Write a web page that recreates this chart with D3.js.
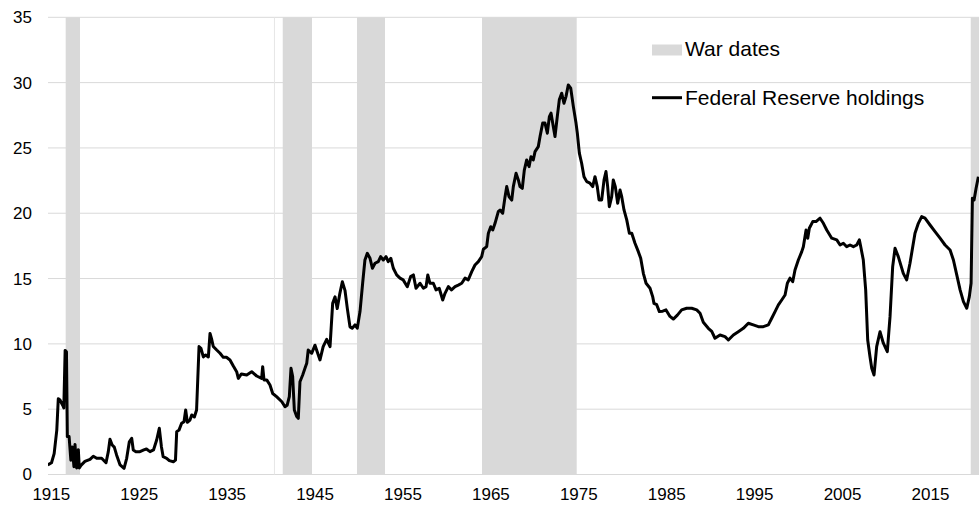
<!DOCTYPE html>
<html>
<head>
<meta charset="utf-8">
<script src="https://cdn.jsdelivr.net/npm/d3@7"></script>
<style>
  body { margin: 0; background: #fff; }
  text { font-family: "Liberation Sans", Arial, sans-serif; fill: #000; }
</style>
</head>
<body>
<script>
// Federal Reserve holdings (decimal year, value)
var years = [1915.17,1915.6,1915.9,1916.2,1916.37,1916.56,1916.87,1917.0,1917.15,1917.3,1917.4,1917.6,1917.8,1917.96,
  1918.15,1918.27,1918.46,1918.65,1918.76,1918.95,1919.4,1919.98,1920.35,1920.74,1921.3,1921.8,1922.06,1922.25,1922.5,
  1922.74,1923.0,1923.4,1923.85,1924.15,1924.45,1924.72,1924.9,1925.2,1925.66,1926.1,1926.4,1926.8,1927.2,1927.56,
  1927.86,1928.1,1928.3,1928.7,1929.0,1929.46,1929.7,1929.84,1930.1,1930.4,1930.67,1930.86,1931.05,1931.35,1931.55,
  1931.85,1932.1,1932.38,1932.6,1932.87,1933.14,1933.44,1933.63,1933.8,1934.0,1934.39,1934.77,1935.14,1935.5,1935.9,
  1936.28,1936.66,1936.85,1937.2,1937.8,1938.37,1938.94,1939.5,1939.62,1939.77,1940.08,1940.45,1940.76,1941.2,1941.8,
  1942.16,1942.4,1942.65,1942.84,1943.03,1943.22,1943.5,1943.67,1943.86,1944.17,1944.43,1944.63,1944.8,1945.2,1945.57,
  1946.14,1946.5,1946.9,1947.28,1947.58,1947.85,1948.1,1948.4,1948.68,1948.98,1949.25,1949.55,1949.8,1950.12,1950.38,
  1950.69,1950.99,1951.25,1951.52,1951.83,1952.1,1952.4,1952.77,1953.04,1953.34,1953.65,1953.9,1954.2,1954.48,1954.86,
  1955.24,1955.6,1956.07,1956.45,1956.76,1957.06,1957.52,1957.9,1958.2,1958.4,1958.65,1959.03,1959.34,1959.7,1960.1,
  1960.36,1960.74,1961.1,1961.5,1961.87,1962.26,1962.64,1963.0,1963.4,1963.77,1964.15,1964.53,1964.72,1965.1,1965.29,
  1965.56,1965.79,1966.05,1966.42,1966.62,1966.92,1967.19,1967.38,1967.64,1967.95,1968.13,1968.44,1968.7,1968.89,
  1969.15,1969.38,1969.65,1969.92,1970.14,1970.4,1970.6,1970.97,1971.17,1971.47,1971.73,1972.0,1972.23,1972.42,1972.68,
  1972.87,1973.13,1973.36,1973.63,1973.89,1974.12,1974.38,1974.66,1974.96,1975.26,1975.41,1975.64,1975.9,1976.17,
  1976.48,1976.85,1977.16,1977.42,1977.68,1977.88,1978.18,1978.45,1978.67,1978.86,1979.05,1979.32,1979.5,1979.73,
  1980.0,1980.27,1980.46,1980.72,1981.03,1981.33,1981.6,1981.97,1982.35,1982.62,1982.92,1983.23,1983.68,1983.98,
  1984.13,1984.44,1984.74,1985.12,1985.5,1985.95,1986.33,1986.79,1987.28,1987.85,1988.42,1988.99,1989.37,1989.74,
  1990.31,1990.7,1991.07,1991.64,1992.21,1992.59,1993.16,1993.72,1994.29,1994.86,1995.43,1996.0,1996.57,1997.14,
  1997.52,1997.9,1998.28,1998.66,1999.04,1999.3,1999.6,1999.91,2000.17,2000.55,2000.94,2001.12,2001.43,2001.62,
  2001.8,2002.19,2002.56,2003.02,2003.4,2003.78,2004.35,2004.92,2005.3,2005.67,2006.05,2006.43,2006.81,2007.19,
  2007.49,2007.65,2007.94,2008.21,2008.44,2008.7,2008.9,2009.16,2009.46,2009.84,2010.22,2010.67,2010.98,2011.28,
  2011.55,2011.92,2012.49,2012.87,2013.25,2013.82,2014.2,2014.58,2014.96,2015.53,2016.1,2016.67,2017.24,2017.81,
  2018.19,2018.57,2018.95,2019.33,2019.71,2020.0,2020.2,2020.35,2020.54,2020.77,2021.03];
var holdings = [0.73,0.9,1.6,3.4,5.8,5.7,5.3,5.1,9.5,9.4,2.9,2.9,1.1,2.1,
  0.6,2.3,0.5,1.9,0.5,0.7,1.0,1.16,1.4,1.24,1.24,0.9,1.75,2.7,2.26,
  2.1,1.5,0.73,0.47,1.24,2.5,2.77,1.88,1.75,1.75,1.88,1.95,1.75,1.88,2.64,
  3.54,2.13,1.36,1.24,1.06,0.98,1.1,3.28,3.4,3.92,4.04,4.94,4.0,4.17,4.56,
  4.4,4.94,9.79,9.66,9.0,9.15,9.0,10.8,10.4,9.8,9.53,9.28,8.97,8.97,8.77,
  8.3,7.87,7.36,7.7,7.62,7.87,7.54,7.36,8.25,7.24,7.24,6.85,6.2,5.96,5.57,
  5.19,5.3,5.96,8.13,7.49,4.94,4.43,4.3,7.1,7.62,8.13,8.51,9.53,9.28,9.9,
  8.77,9.79,10.35,9.79,13.1,13.6,12.7,13.87,14.76,14.1,12.7,11.3,11.2,11.45,11.2,
  12.47,14.64,16.42,16.93,16.55,15.79,16.17,16.3,16.68,16.42,16.68,16.3,16.55,15.79,15.28,
  15.03,14.9,14.38,15.15,15.28,14.26,14.64,14.26,14.38,15.28,14.64,14.64,14.13,14.26,13.36,
  13.87,14.38,14.13,14.38,14.5,14.64,15.03,14.9,15.53,16.04,16.3,16.68,17.24,17.44,18.47,
  18.97,18.72,19.23,20.12,20.25,20.0,21.27,22.04,21.27,21.0,22.04,23.06,22.55,22.04,
  21.91,23.3,24.08,23.57,24.33,24.08,24.72,25.1,25.87,26.9,26.9,26.13,27.4,27.66,26.63,
  25.87,27.4,28.68,29.19,28.42,28.93,29.82,29.57,28.16,26.9,26.13,24.6,23.83,22.8,
  22.42,22.3,22.04,22.8,22.04,21.02,21.02,22.55,23.19,22.04,20.5,21.27,22.55,22.04,
  20.77,21.78,21.27,20.25,19.49,18.47,18.47,17.7,17.06,16.55,15.4,14.64,14.26,13.62,
  13.1,13.0,12.47,12.5,12.6,12.1,11.9,12.2,12.6,12.73,12.73,12.6,12.34,11.65,
  11.19,10.95,10.43,10.68,10.55,10.3,10.68,10.93,11.19,11.58,11.45,11.32,11.32,11.45,
  11.96,12.47,12.98,13.36,13.74,14.64,15.03,14.76,15.66,16.42,17.06,17.44,18.72,18.09,
  18.85,19.36,19.36,19.62,19.23,18.72,18.09,17.96,17.57,17.7,17.44,17.57,17.44,17.57,
  17.96,17.44,16.42,14.13,10.3,9.02,8.13,7.62,9.79,10.93,10.05,9.4,12.08,15.91,
  17.32,16.68,15.4,14.9,16.17,18.47,19.23,19.74,19.62,19.1,18.59,18.09,17.57,17.19,
  16.42,15.28,14.13,13.23,12.73,13.62,14.64,21.15,21.02,21.91,22.8];

// War periods (shaded bands)
var warStart = [1917.21, 1940.9, 1941.9, 1950.35, 1964.57, 2020.16];
var warEnd   = [1918.84, 1941.0, 1945.23, 1953.53, 1975.34, 2021.2];

var xTickYears = [1915, 1925, 1935, 1945, 1955, 1965, 1975, 1985, 1995, 2005, 2015];
var yTicks = [0, 5, 10, 15, 20, 25, 30, 35];

var legendLabels = ["War dates", "Federal Reserve holdings"];

var W = 979, H = 508;
var plotLeft = 48, plotRight = 979, plotTop = 17.3, plotBottom = 474.5;

var svg = d3.select("body").append("svg")
  .attr("width", W)
  .attr("height", H);

var x = d3.scaleLinear().domain([1915.2, 2021.1]).range([plotLeft, plotRight]);
var y = d3.scaleLinear().domain([0, 35]).range([plotBottom, plotTop]);

// horizontal gridlines
svg.append("g")
  .selectAll("line")
  .data(yTicks)
  .enter().append("line")
  .attr("x1", plotLeft)
  .attr("x2", plotRight)
  .attr("y1", function(d) { return y(d); })
  .attr("y2", function(d) { return y(d); })
  .attr("stroke", "#d9d9d9")
  .attr("stroke-width", 1);

// war bands
var wars = warStart.map(function(s, i) { return { s: s, e: warEnd[i] }; });
svg.append("g")
  .selectAll("rect")
  .data(wars)
  .enter().append("rect")
  .attr("x", function(d) { return x(d.s); })
  .attr("width", function(d) { return Math.max(1, x(d.e) - x(d.s)); })
  .attr("y", y(35))
  .attr("height", y(0) - y(35))
  .attr("fill", function(d) { return (d.e - d.s) < 0.2 ? "#e6e6e6" : "#d9d9d9"; });

// y axis labels
var yAxis = d3.axisLeft(y).tickValues(yTicks).tickSize(0).tickPadding(0);
svg.append("g")
  .attr("transform", "translate(32,0)")
  .call(yAxis)
  .call(function(g) { g.select(".domain").remove(); })
  .selectAll("text")
  .attr("font-size", "17px")
  .attr("font-family", "Liberation Sans, Arial, sans-serif")
  .attr("fill", "#000");

// x axis labels (centred mid-year)
var xAxis = d3.axisBottom(x)
  .tickValues(xTickYears.map(function(d) { return d + 0.52; }))
  .tickFormat(function(d) { return Math.floor(d); })
  .tickSize(0).tickPadding(0);
svg.append("g")
  .attr("transform", "translate(0,488)")
  .call(xAxis)
  .call(function(g) { g.select(".domain").remove(); })
  .selectAll("text")
  .attr("font-size", "17px")
  .attr("font-family", "Liberation Sans, Arial, sans-serif")
  .attr("fill", "#000");

// the line
svg.append("clipPath").attr("id", "clip")
  .append("rect").attr("x", plotLeft).attr("y", 0).attr("width", plotRight - plotLeft).attr("height", H);

var series = years.map(function(d, i) { return [d, holdings[i]]; });
var line = d3.line()
  .x(function(d) { return x(d[0]); })
  .y(function(d) { return y(d[1]); });

svg.append("path")
  .datum(series)
  .attr("clip-path", "url(#clip)")
  .attr("d", line)
  .attr("fill", "none")
  .attr("stroke", "#000")
  .attr("stroke-width", 3)
  .attr("stroke-linejoin", "round");

// legend
var lg = svg.append("g").attr("font-size", "21px");
lg.append("rect")
  .attr("x", 652).attr("y", 44.5).attr("width", 30).attr("height", 11)
  .attr("fill", "#d9d9d9");
lg.append("text").attr("x", 685).attr("y", 56).text(legendLabels[0]);
lg.append("line")
  .attr("x1", 652).attr("x2", 682).attr("y1", 97.7).attr("y2", 97.7)
  .attr("stroke", "#000").attr("stroke-width", 3);
lg.append("text").attr("x", 685).attr("y", 104.5).text(legendLabels[1]);
</script>
</body>
</html>
